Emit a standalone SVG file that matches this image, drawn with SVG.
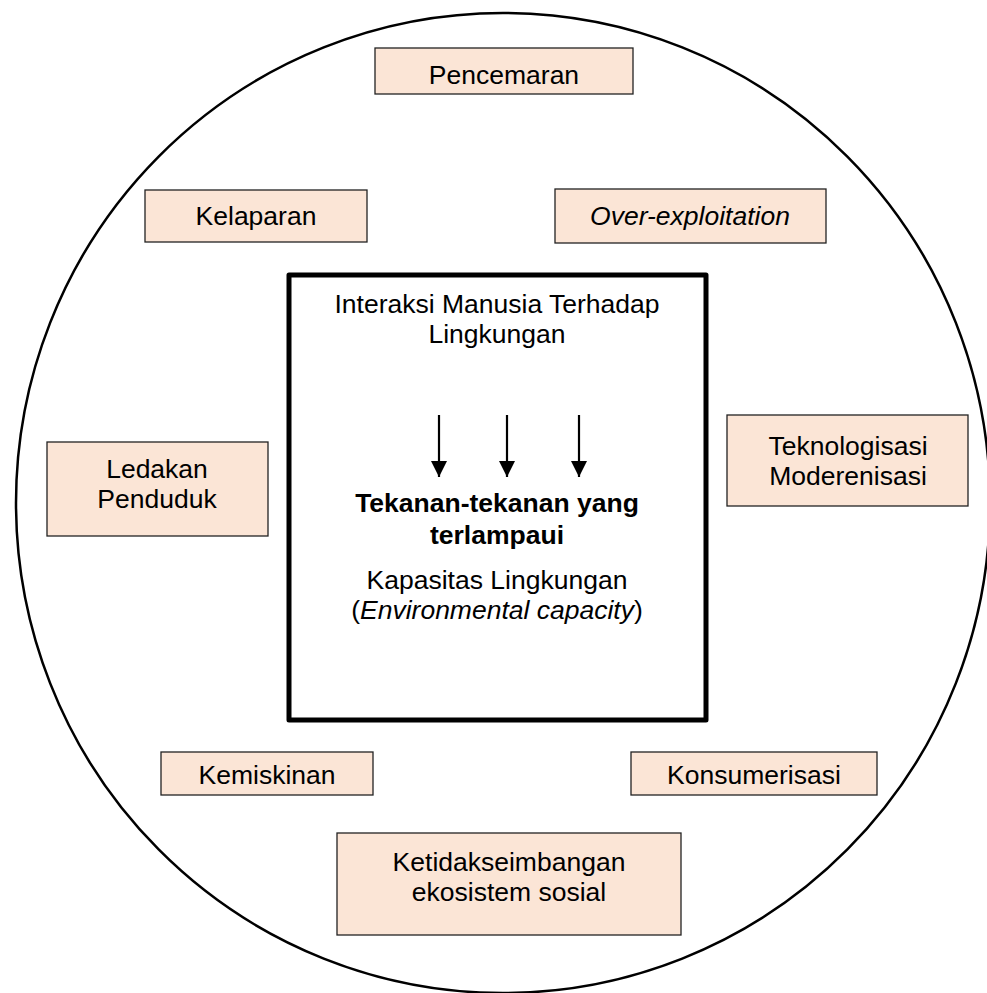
<svg xmlns="http://www.w3.org/2000/svg" width="987" height="993" viewBox="0 0 987 993">
<style>
.box{fill:#FBE5D6;stroke:#222;stroke-width:1.3}
.t{font-family:"Liberation Sans",Arial,sans-serif;font-size:26.5px;fill:#000;text-anchor:middle}
.b{font-weight:bold}
.i{font-style:italic}
.arr{stroke:#000;stroke-width:2.2;fill:none}
</style>
<defs>
<marker id="ah" viewBox="0 0 16 16" refX="16" refY="8" markerWidth="16" markerHeight="16" markerUnits="userSpaceOnUse" orient="auto">
<path d="M0,0 L16,8 L0,16 Z" fill="#000"/>
</marker>
</defs>
<rect width="987" height="993" fill="#fff"/>
<ellipse id="circle" cx="503" cy="503" rx="487" ry="490" fill="none" stroke="#000" stroke-width="2.5"/>
<g id="center">
<rect x="289" y="275" width="417" height="445" fill="#fff" stroke="#000" stroke-width="5" stroke-linejoin="round"/>
<text class="t" x="497" y="313">Interaksi Manusia Terhadap</text>
<text class="t" x="497" y="343">Lingkungan</text>
<text class="t b" x="497" y="512">Tekanan-tekanan yang</text>
<text class="t b" x="497" y="544">terlampaui</text>
<text class="t" x="497" y="589">Kapasitas Lingkungan</text>
<text class="t" x="497" y="619">(<tspan class="i">Environmental capacity</tspan>)</text>
</g>
<g id="connectors">
<line class="arr" x1="439" y1="415" x2="439" y2="477" marker-end="url(#ah)"/>
<line class="arr" x1="507" y1="415" x2="507" y2="477" marker-end="url(#ah)"/>
<line class="arr" x1="579" y1="415" x2="579" y2="477" marker-end="url(#ah)"/>
</g>
<g id="pencemaran"><rect class="box" x="375" y="48" width="258" height="46"/><text class="t" x="504" y="84">Pencemaran</text></g>
<g id="kelaparan"><rect class="box" x="145" y="190" width="222" height="52"/><text class="t" x="256" y="225">Kelaparan</text></g>
<g id="overexploitation"><rect class="box" x="555" y="189" width="271" height="54"/><text class="t i" x="690" y="225">Over-exploitation</text></g>
<g id="ledakan"><rect class="box" x="47" y="442" width="221" height="94"/><text class="t" x="157" y="478">Ledakan</text><text class="t" x="157" y="508">Penduduk</text></g>
<g id="teknologisasi"><rect class="box" x="727" y="415" width="241" height="91"/><text class="t" x="848" y="455">Teknologisasi</text><text class="t" x="848" y="485">Moderenisasi</text></g>
<g id="kemiskinan"><rect class="box" x="161" y="752" width="212" height="43"/><text class="t" x="267" y="784">Kemiskinan</text></g>
<g id="konsumerisasi"><rect class="box" x="631" y="752" width="246" height="43"/><text class="t" x="754" y="784">Konsumerisasi</text></g>
<g id="ketidakseimbangan"><rect class="box" x="337" y="833" width="344" height="102"/><text class="t" x="509" y="871">Ketidakseimbangan</text><text class="t" x="509" y="901">ekosistem sosial</text></g>
</svg>
